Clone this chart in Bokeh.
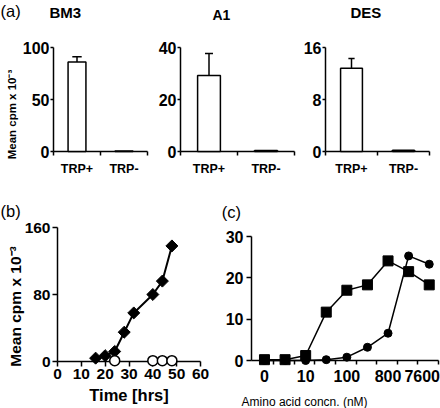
import numpy as np
from bokeh.plotting import figure
from bokeh.layouts import column, row
from bokeh.models import FixedTicker, Range1d, Spacer
from bokeh.core.properties import value
from bokeh.embed import file_html
from bokeh.resources import INLINE

# ---------------- data ----------------
# (a) bar charts
conditions = ["TRP+", "TRP-"]
bm3_mean = [86.0, 0.5]
bm3_err = [5.0, 0.0]
a1_mean = [29.2, 0.4]
a1_err = [8.5, 0.0]
des_mean = [12.8, 0.2]
des_err = [1.5, 0.0]

# (b) time course
time_plus = [16, 20, 24, 28, 32, 40, 44, 48]
cpm_plus = [4, 7, 12, 35, 58, 80, 96, 138]
time_minus = [24, 40, 44, 48]
cpm_minus = [1, 1, 1, 1]

# (c) amino acid titration (9 concentration steps)
conc_steps = [0, 1, 2, 3, 4, 5, 6, 7, 8]
conc_labels = ["0", "10", "100", "800", "7600"]
square_vals = [0.2, 0.2, 1.2, 11.7, 17.0, 18.3, 24.1, 21.5, 18.3]
circle_vals = [0.0, 0.0, 0.0, 0.2, 0.8, 3.2, 6.6, 25.3, 23.3]

FONT = "Liberation Sans"
YLAB = "Mean cpm x 10\u207b\u00b3"


def make_fig(width, height, left, right, top, bottom, xr, yr):
    p = figure(width=width, height=height, output_backend="svg", toolbar_location=None,
               x_range=Range1d(*xr), y_range=Range1d(*yr),
               min_border_left=left, min_border_right=right,
               min_border_top=top, min_border_bottom=bottom)
    p._frame_px = (width - left - right, height - top - bottom)
    return p


def style(p, tick_size):
    p.grid.visible = False
    p.outline_line_color = None
    p.background_fill_color = "white"
    p.border_fill_color = "white"
    for ax in p.axis:
        ax.axis_line_width = 1.5
        ax.axis_line_color = "black"
        ax.major_tick_line_width = 1.5
        ax.major_tick_line_color = "black"
        ax.minor_tick_line_width = 1.5
        ax.minor_tick_line_color = "black"
        ax.major_label_text_font = FONT
        ax.major_label_text_font_style = "bold"
        ax.major_label_text_font_size = tick_size
        ax.major_label_text_color = "black"
        ax.axis_label_text_font = FONT
        ax.axis_label_text_font_style = "bold"
        ax.axis_label_text_color = "black"


def text(p, dx, dy, s, size, bold=False, baseline="top", align="left", angle=0.0):
    # dx, dy: pixel offsets from the frame's bottom-left corner (dy upward)
    fw, fh = p._frame_px
    xr, yr = p.x_range, p.y_range
    x = xr.start + dx * (xr.end - xr.start) / fw
    y = yr.start + dy * (yr.end - yr.start) / fh
    p.text(x=[x], y=[y], text=[s], text_font=value(FONT), text_font_size=size,
           text_font_style="bold" if bold else "normal", text_color="black",
           text_baseline=baseline, text_align=align, angle=angle, level="overlay")


def bar_panel(means, errs, ymax, yticks, width, left, right, bar_w, cap_w):
    p = make_fig(width, 200, left, right, 47, 49, (0, 2), (0, ymax))
    centers = [i + 0.5 for i in range(len(conditions))]
    tops = [m + e for m, e in zip(means, errs)]
    p.vbar(x=centers, top=means, bottom=0, width=bar_w, fill_color="white",
           line_color="black", line_width=1.5, level="overlay")
    idx = [i for i, e in enumerate(errs) if e > 0]
    p.segment(x0=[centers[i] for i in idx], y0=[means[i] for i in idx],
              x1=[centers[i] for i in idx], y1=[tops[i] for i in idx],
              line_color="black", line_width=1.5)
    p.segment(x0=[centers[i] - cap_w for i in idx], y0=[tops[i] for i in idx],
              x1=[centers[i] + cap_w for i in idx], y1=[tops[i] for i in idx],
              line_color="black", line_width=1.5)
    style(p, "16px")
    xa = p.xaxis[0]
    xa.ticker = FixedTicker(ticks=centers, minor_ticks=[0, 1, 2])
    xa.major_label_overrides = {c: n for c, n in zip(centers, conditions)}
    xa.major_tick_out = 0
    xa.major_tick_in = 0
    xa.minor_tick_out = 4
    xa.minor_tick_in = 0
    xa.major_label_standoff = 6
    xa.major_label_text_font_size = "12.5px"
    ya = p.yaxis[0]
    ya.ticker = FixedTicker(ticks=yticks)
    ya.major_tick_out = 3
    ya.major_tick_in = 0
    ya.major_label_standoff = 1
    ya.minor_tick_line_color = None
    return p


p1 = bar_panel(bm3_mean, bm3_err, 100, [0, 50, 100], 150, 53, 3, 0.38, 0.1)
p2 = bar_panel(a1_mean, a1_err, 40, [0, 20, 40], 146, 30, 2, 0.40, 0.07)
p3 = bar_panel(des_mean, des_err, 16, [0, 8, 16], 144, 29, 11, 0.42, 0.06)
text(p1, -53, 150, "(a)", "16.5px")
text(p1, -4, 148, "BM3", "15px", bold=True)
text(p2, 32, 145, "A1", "14px", bold=True)
text(p3, 25, 148, "DES", "15px", bold=True)
text(p1, -42, 37, YLAB, "11.5px", bold=True, baseline="middle", align="center",
     angle=np.pi / 2)

# ---------------- (b) ----------------
pb = make_fig(222, 208, 57, 22, 27, 47, (0, 60), (0, 160))
pb.line(time_plus, cpm_plus, line_color="black", line_width=2, level="overlay")
pb.scatter(time_plus, cpm_plus, marker="square", angle=np.pi / 4, size=8.5,
           fill_color="black", line_color="black", level="overlay")
pb.scatter(time_minus, cpm_minus, marker="circle", size=10, fill_color="white",
           line_color="black", line_width=1.5, level="overlay")
style(pb, "15.5px")
pb.xaxis.ticker = FixedTicker(ticks=list(range(0, 61, 10)))
pb.yaxis.ticker = FixedTicker(ticks=[0, 80, 160])
for ax in pb.axis:
    ax.major_tick_out = 5
    ax.major_tick_in = 0
    ax.major_label_standoff = 2
    ax.minor_tick_line_color = None
pb.xaxis.axis_label = "Time [hrs]"
pb.xaxis.axis_label_text_font_size = "16.5px"
pb.xaxis.axis_label_standoff = 4
text(pb, -57, 160, "(b)", "16.5px")
text(pb, -42.5, 55, YLAB, "15.5px", bold=True, baseline="middle", align="center",
     angle=np.pi / 2)

# ---------------- (c) ----------------
pc = make_fig(218, 207, 28, 2, 35, 48, (-0.63, 8.45), (0, 30))
pc.line(conc_steps, circle_vals, line_color="black", line_width=1.5, level="overlay")
pc.scatter(conc_steps, circle_vals, marker="circle", size=8, fill_color="black",
           line_color="black", level="overlay")
pc.line(conc_steps, square_vals, line_color="black", line_width=1.5, level="overlay")
pc.scatter(conc_steps, square_vals, marker="square", size=10, fill_color="black",
           line_color="black", level="overlay")
style(pc, "16px")
label_pos = [0, 2, 4, 6, 7.66]
pc.xaxis.ticker = FixedTicker(ticks=label_pos,
                              minor_ticks=[i + 0.45 for i in range(0, 9)])
pc.xaxis.major_label_overrides = {v: t for v, t in zip(label_pos, conc_labels)}
pc.xaxis.major_tick_out = 0
pc.xaxis.major_tick_in = 0
pc.xaxis.minor_tick_out = 4
pc.xaxis.minor_tick_in = 0
pc.xaxis.major_label_standoff = 5
pc.yaxis.ticker = FixedTicker(ticks=[0, 10, 20, 30])
pc.yaxis.major_tick_out = 5
pc.yaxis.major_tick_in = 0
pc.yaxis.major_label_standoff = 3
pc.yaxis.minor_tick_line_color = None
text(pc, -30, 158, "(c)", "16.5px")
text(pc, -10, -41, "Amino acid concn. (nM)", "12px", baseline="alphabetic")

layout = column(row(p1, p2, p3),
                row(pb, column(Spacer(width=218, height=1), pc)))
open("out.html", "w").write(file_html(layout, INLINE))
